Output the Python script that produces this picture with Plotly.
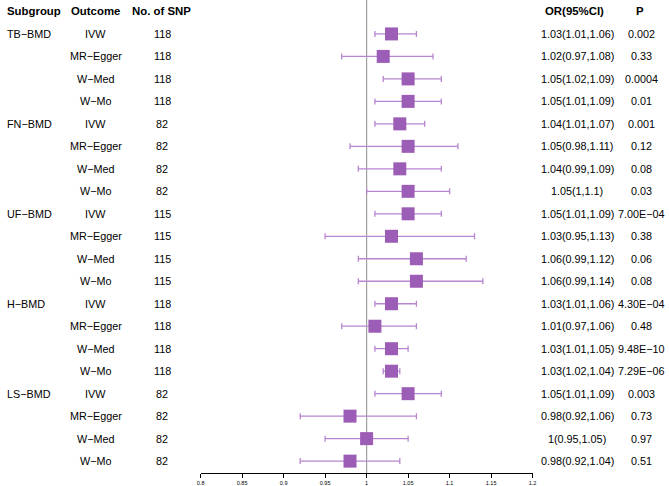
import plotly.graph_objects as go

W, H = 669, 486

subgroups = ["TB−BMD", "FN−BMD", "UF−BMD", "H−BMD", "LS−BMD"]
methods = ["IVW", "MR−Egger", "W−Med", "W−Mo"]
nsnp = [118, 118, 118, 118,
        82, 82, 82, 82,
        115, 115, 115, 115,
        118, 118, 118, 118,
        82, 82, 82, 82]
or_vals = [1.03, 1.02, 1.05, 1.05,
           1.04, 1.05, 1.04, 1.05,
           1.05, 1.03, 1.06, 1.06,
           1.03, 1.01, 1.03, 1.03,
           1.05, 0.98, 1.00, 0.98]
ci_lo = [1.01, 0.97, 1.02, 1.01,
         1.01, 0.98, 0.99, 1.00,
         1.01, 0.95, 0.99, 0.99,
         1.01, 0.97, 1.01, 1.02,
         1.01, 0.92, 0.95, 0.92]
ci_hi = [1.06, 1.08, 1.09, 1.09,
         1.07, 1.11, 1.09, 1.10,
         1.09, 1.13, 1.12, 1.14,
         1.06, 1.06, 1.05, 1.04,
         1.09, 1.06, 1.05, 1.04]
p_vals = ["0.002", "0.33", "0.0004", "0.01",
          "0.001", "0.12", "0.08", "0.03",
          "7.00E−04", "0.38", "0.06", "0.08",
          "4.30E−04", "0.48", "9.48E−10", "7.29E−06",
          "0.003", "0.73", "0.97", "0.51"]
tick_vals = [0.8, 0.85, 0.9, 0.95, 1.0, 1.05, 1.1, 1.15, 1.2]
tick_text = ["0.8", "0.85", "0.9", "0.95", "1", "1.05", "1.1", "1.15", "1.2"]

n = len(or_vals)
rows = list(range(n))

SQ = "#9C5DB6"
LN = "#B886D0"
FONT = "Liberation Sans, Arial, sans-serif"

fig = go.Figure()
fig.add_trace(go.Scatter(
    x=or_vals, y=rows, mode="markers",
    marker=dict(symbol="square", size=13, color=SQ, line=dict(width=0)),
    error_x=dict(type="data", symmetric=False,
                 array=[h - o for h, o in zip(ci_hi, or_vals)],
                 arrayminus=[o - l for o, l in zip(or_vals, ci_lo)],
                 color=LN, thickness=1.3, width=3),
    showlegend=False, hoverinfo="skip",
))

# axis geometry (pixels)
x0px, x1px = 199, 535
axis_y_px = 474
row0_px, row_step = 34, 22.53
y_top = (0 - row0_px) / row_step
y_bot = (axis_y_px - row0_px) / row_step

ann = []
def px(x):
    return x / W

hdr_y = -1
hf = dict(family=FONT, size=11.4, color="black")
bf = dict(family=FONT, size=10.8, color="black")
ann.append(dict(x=px(2), y=hdr_y, text="<b>Subgroup</b>", xanchor="left", font=hf))
ann.append(dict(x=px(93), y=hdr_y, text="<b>Outcome</b>", xanchor="center", font=hf))
ann.append(dict(x=px(159), y=hdr_y, text="<b>No. of SNP</b>", xanchor="center", font=hf))
ann.append(dict(x=px(577), y=hdr_y, text="<b>OR(95%CI)</b>", xanchor="center", font=hf))
ann.append(dict(x=px(644), y=hdr_y, text="<b>P</b>", xanchor="center", font=hf))

def fmt(v):
    return f"{v:g}"

for i in rows:
    if i % 4 == 0:
        ann.append(dict(x=px(2), y=i, text=subgroups[i // 4], xanchor="left", font=bf))
    ann.append(dict(x=px(93), y=i, text=methods[i % 4], xanchor="center", font=bf))
    ann.append(dict(x=px(160), y=i, text=str(nsnp[i]), xanchor="center", font=bf))
    ann.append(dict(x=px(580), y=i,
                    text=f"{fmt(or_vals[i])}({fmt(ci_lo[i])},{fmt(ci_hi[i])})",
                    xanchor="center", font=bf))
    ann.append(dict(x=px(645), y=i, text=p_vals[i], xanchor="center", font=bf))

for a in ann:
    a.update(xref="paper", yref="y", yanchor="middle", showarrow=False,
             borderpad=0)

fig.update_layout(
    width=W, height=H,
    margin=dict(l=0, r=0, t=0, b=0, pad=0),
    paper_bgcolor="white", plot_bgcolor="white",
    annotations=ann,
    xaxis=dict(domain=[x0px / W, x1px / W], range=[0.8, 1.2],
               tickvals=tick_vals, ticktext=tick_text,
               showgrid=False, zeroline=False,
               showline=True, linecolor="black", linewidth=1,
               ticks="outside", ticklen=4, tickwidth=1, tickcolor="black",
               tickfont=dict(family=FONT, size=5.5, color="black")),
    yaxis=dict(domain=[(H - axis_y_px) / H, 1], range=[y_bot, y_top],
               showgrid=False, zeroline=False, showline=False,
               showticklabels=False, ticks=""),
    shapes=[dict(type="line", xref="x", yref="paper", x0=1, x1=1,
                 y0=(H - axis_y_px) / H, y1=1,
                 line=dict(color="#A0A0A0", width=1.2), layer="below")],
)

fig.write_html("out.html",
               config={"displayModeBar": False},
               post_script="document.body.style.margin='0';"
                           "document.body.style.overflow='hidden';")
